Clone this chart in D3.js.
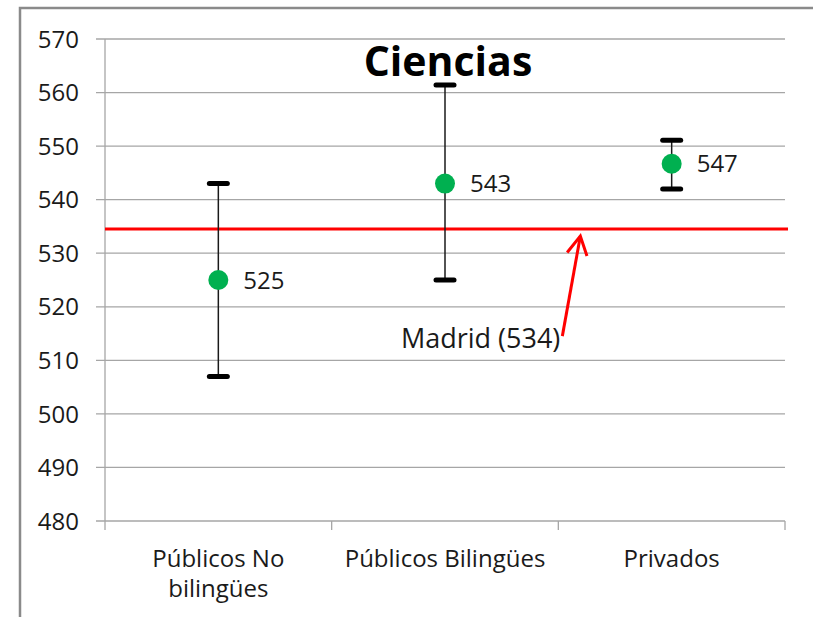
<!DOCTYPE html>
<html>
<head>
    <meta charset="utf-8" />
    <title>Ciencias</title>
    <style>
        body { margin: 0; background: #fff; }
        text { font-family: "Open Sans", "Noto Sans", sans-serif; fill: #1a1a1a; }
    </style>
</head>
<body>
<script src="https://d3js.org/d3.v7.min.js"></script>
<script>

    // data
    var categories = [["Públicos No", "bilingües"], ["Públicos Bilingües"], ["Privados"]];
    var means = [525, 543, 546.7];
    var lows = [507, 525, 542];
    var highs = [543, 561.4, 551.1];
    var yTicks = [480, 490, 500, 510, 520, 530, 540, 550, 560, 570];
    var madrid = 534.5;
    var madridLabel = "Madrid (534)";
    var title = "Ciencias";

    var width = 813;
    var height = 617;
    var margin = {"left": 105, "right": 28, "top": 39, "bottom": 96};

    var svg = d3.select("body").append("svg")
                .attr("width", width)
                .attr("height", height);

    // outer chart frame (runs past the right and bottom edges)
    svg.append("rect")
       .attr("x", 20)
       .attr("y", 8)
       .attr("width", 900)
       .attr("height", 700)
       .attr("fill", "none")
       .style("stroke", "#8a8a8a")
       .style("stroke-width", 2.5);

    var xScaler = d3.scaleBand()
                    .domain(d3.range(categories.length))
                    .range([margin.left, width - margin.right])
                    .padding(0);

    var yScaler = d3.scaleLinear()
                    .domain([480, 570])
                    .range([height - margin.bottom, margin.top]);

    var cx = i => xScaler(i) + xScaler.bandwidth() / 2;

    // gridlines
    svg.append("g")
       .selectAll("line")
       .data(yTicks)
       .enter()
       .append("line")
       .attr("x1", margin.left - 9)
       .attr("x2", width - margin.right)
       .attr("y1", d => yScaler(d))
       .attr("y2", d => yScaler(d))
       .style("stroke", "#a6a6a6")
       .style("stroke-width", 1.3);

    // y axis line
    svg.append("line")
       .attr("x1", margin.left).attr("x2", margin.left)
       .attr("y1", margin.top).attr("y2", height - margin.bottom + 9)
       .style("stroke", "#a6a6a6")
       .style("stroke-width", 1.3);

    // y tick labels
    svg.append("g")
       .selectAll("text")
       .data(yTicks)
       .enter()
       .append("text")
       .attr("x", margin.left - 26)
       .attr("y", d => yScaler(d))
       .attr("dy", "0.36em")
       .style("text-anchor", "end")
       .style("font-size", "24px")
       .text(d => d);

    // category separator ticks
    var bounds = d3.range(categories.length + 1).map(i => margin.left + i * xScaler.bandwidth());
    svg.append("g")
       .selectAll("line")
       .data(bounds.slice(1))
       .enter()
       .append("line")
       .attr("x1", d => d).attr("x2", d => d)
       .attr("y1", height - margin.bottom)
       .attr("y2", height - margin.bottom + 9)
       .style("stroke", "#a6a6a6")
       .style("stroke-width", 1.3);

    // category labels
    var catLabels = svg.append("g")
                       .selectAll("text")
                       .data(categories)
                       .enter()
                       .append("text")
                       .attr("x", (d, i) => cx(i))
                       .attr("y", height - margin.bottom + 46)
                       .style("text-anchor", "middle")
                       .style("font-size", "24px");

    catLabels.selectAll("tspan")
             .data(d => d)
             .enter()
             .append("tspan")
             .attr("x", function() { return d3.select(this.parentNode).attr("x"); })
             .attr("dy", (d, j) => j == 0 ? 0 : 30)
             .text(d => d);

    // Madrid reference line
    svg.append("line")
       .attr("x1", margin.left)
       .attr("x2", width - margin.right + 3)
       .attr("y1", yScaler(madrid))
       .attr("y2", yScaler(madrid))
       .style("stroke", "#ff0000")
       .style("stroke-width", 3);

    // error bars
    var bars = svg.append("g");

    bars.selectAll("line.whisker")
        .data(means)
        .enter()
        .append("line")
        .attr("class", "whisker")
        .attr("x1", (d, i) => cx(i)).attr("x2", (d, i) => cx(i))
        .attr("y1", (d, i) => yScaler(lows[i]))
        .attr("y2", (d, i) => yScaler(highs[i]))
        .style("stroke", "#1a1a1a")
        .style("stroke-width", 1.5);

    var caps = [];
    means.forEach((d, i) => { caps.push([i, lows[i]]); caps.push([i, highs[i]]); });

    bars.selectAll("line.cap")
        .data(caps)
        .enter()
        .append("line")
        .attr("class", "cap")
        .attr("x1", d => cx(d[0]) - 9)
        .attr("x2", d => cx(d[0]) + 9)
        .attr("y1", d => yScaler(d[1]))
        .attr("y2", d => yScaler(d[1]))
        .style("stroke", "#000")
        .style("stroke-width", 5)
        .style("stroke-linecap", "round");

    bars.selectAll("circle")
        .data(means)
        .enter()
        .append("circle")
        .attr("cx", (d, i) => cx(i))
        .attr("cy", d => yScaler(d))
        .attr("r", 10)
        .attr("fill", "#00b050");

    bars.selectAll("text")
        .data(means)
        .enter()
        .append("text")
        .attr("x", (d, i) => cx(i) + 25)
        .attr("y", d => yScaler(d))
        .attr("dy", "0.36em")
        .style("font-size", "24px")
        .text(d => d3.format(".0f")(d));

    // annotation arrow pointing at the Madrid line
    var tip = [bounds[2] + 22, yScaler(madrid) + 7];
    var tail = [bounds[2] + 4, yScaler(madrid) + 107];
    var ang = Math.atan2(tip[1] - tail[1], tip[0] - tail[0]);
    var wing = 21, spread = 0.5;

    svg.append("line")
       .attr("x1", tail[0]).attr("y1", tail[1])
       .attr("x2", tip[0]).attr("y2", tip[1])
       .style("stroke", "#ff0000")
       .style("stroke-width", 3);

    svg.append("path")
       .attr("d", d3.line()([
           [tip[0] - wing * Math.cos(ang - spread), tip[1] - wing * Math.sin(ang - spread)],
           tip,
           [tip[0] - wing * Math.cos(ang + spread), tip[1] - wing * Math.sin(ang + spread)]
       ]))
       .attr("fill", "none")
       .style("stroke", "#ff0000")
       .style("stroke-width", 3)
       .style("stroke-linejoin", "miter");

    svg.append("text")
       .attr("x", tail[0] - 2)
       .attr("y", tail[1] + 12)
       .style("text-anchor", "end")
       .style("font-size", "27px")
       .text(madridLabel);

    // title
    svg.append("text")
       .attr("x", cx(1) + 3)
       .attr("y", 76)
       .style("text-anchor", "middle")
       .style("font-size", "41px")
       .style("font-weight", "bold")
       .style("fill", "#000")
       .text(title);

</script>
</body>
</html>
